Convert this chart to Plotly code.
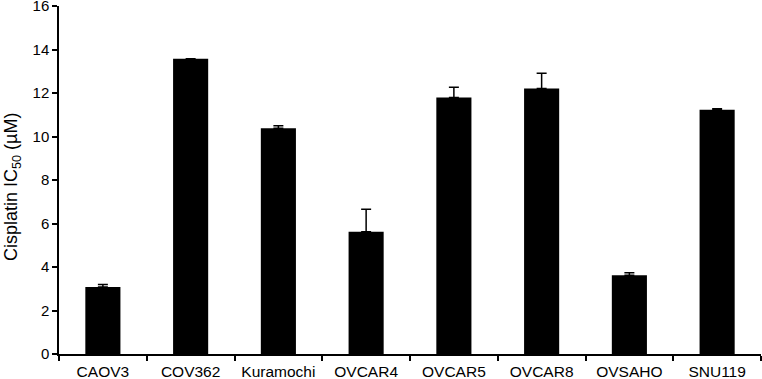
import plotly.graph_objects as go

cell_lines = ["CAOV3", "COV362", "Kuramochi", "OVCAR4", "OVCAR5", "OVCAR8", "OVSAHO", "SNU119"]
ic50_values = [3.08, 13.58, 10.38, 5.62, 11.79, 12.21, 3.62, 11.23]
ic50_errors = [0.11, 0.0, 0.12, 1.03, 0.47, 0.70, 0.12, 0.05]
y_ticks = [0, 2, 4, 6, 8, 10, 12, 14, 16]
y_title = "Cisplatin IC<sub>50</sub> (µM)"

fig = go.Figure()
fig.add_trace(go.Bar(
    x=cell_lines,
    y=ic50_values,
    width=0.4,
    marker=dict(color="black", line=dict(width=0)),
    error_y=dict(type="data", array=ic50_errors, arrayminus=[0] * len(ic50_errors),
                 symmetric=False, color="black", thickness=1.5, width=5, visible=True),
))

font_family = "Liberation Sans, Arial, sans-serif"
fig.update_layout(
    width=762, height=379,
    margin=dict(l=59, r=1, t=6, b=25),
    plot_bgcolor="white", paper_bgcolor="white",
    showlegend=False,
    font=dict(family=font_family, color="black", size=15),
    bargap=0.6,
)
fig.update_xaxes(
    type="category",
    range=[-0.5, 7.5],
    automargin=False,
    showline=True, linecolor="black", linewidth=1.5,
    ticks="outside", tickson="boundaries", ticklen=5, tickcolor="black", tickwidth=1.5,
    tickfont=dict(size=15.5),
    ticklabeloverflow="allow",
    ticklabelstandoff=3,
    showgrid=False, zeroline=False,
)
fig.update_yaxes(
    range=[0, 16],
    tickvals=y_ticks,
    automargin=False,
    showline=True, linecolor="black", linewidth=1.5,
    ticks="outside", ticklen=5, tickcolor="black", tickwidth=1.5,
    tickfont=dict(size=15),
    ticklabeloverflow="allow",
    showgrid=False, zeroline=False,
)
fig.add_annotation(
    text=y_title, textangle=-90, showarrow=False,
    xref="paper", yref="paper", x=0, y=0.48,
    xanchor="center", yanchor="middle", xshift=-46,
    font=dict(size=18, family=font_family, color="black"),
)

fig.write_html("out.html", config={"displayModeBar": False},
               post_script="document.body.style.margin='0';")
